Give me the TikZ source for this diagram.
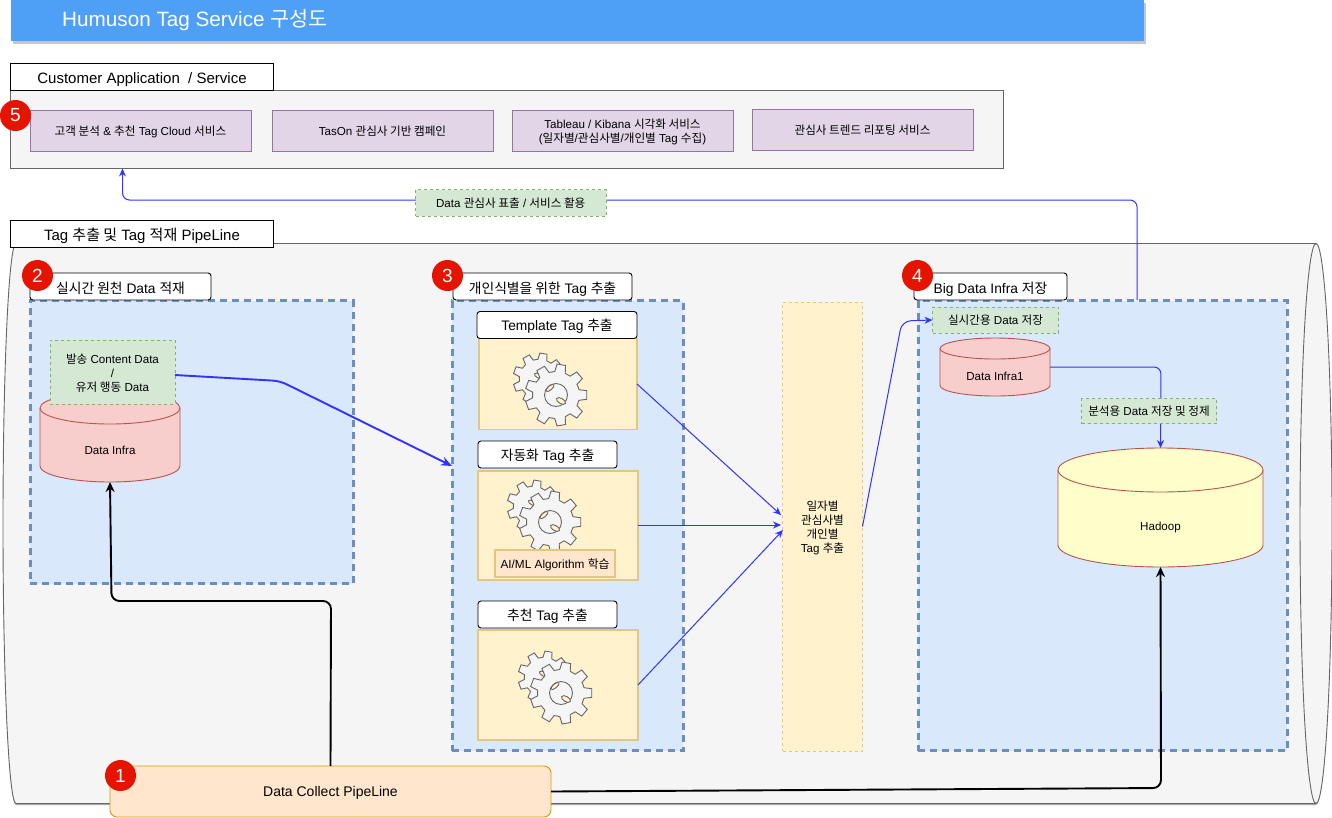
\documentclass[tikz,border=0pt]{standalone}
\usepackage{fontspec}
\setmainfont{Liberation Sans}
\newfontfamily\krfont{Noto Sans CJK KR}
\newcommand{\kor}[1]{{\krfont #1}}
\usepackage{xcolor}
\definecolor{titleblue}{HTML}{4DA0F5}
\definecolor{panelgray}{HTML}{F5F5F5}
\definecolor{panelline}{HTML}{666666}
\definecolor{lilac}{HTML}{E1D5E7}
\definecolor{lilacline}{HTML}{9673A6}
\definecolor{skyfill}{HTML}{DAE8FC}
\definecolor{skyline}{HTML}{6C8EBF}
\definecolor{leaf}{HTML}{D5E8D4}
\definecolor{leafline}{HTML}{82B366}
\definecolor{cream}{HTML}{FFF2CC}
\definecolor{creamline}{HTML}{E3C77E}
\definecolor{peach}{HTML}{FFE6CC}
\definecolor{peachline}{HTML}{D79B00}
\definecolor{rose}{HTML}{F8CECC}
\definecolor{roseline}{HTML}{B85450}
\definecolor{lemon}{HTML}{FFFFCC}
\definecolor{badgered}{HTML}{E51400}
\definecolor{flowblue}{HTML}{3333FF}
\usepackage{tikz}
\usetikzlibrary{positioning,arrows.meta,shadows}
\tikzset{
  boxsize/.style 2 args={minimum width=#1pt, minimum height=#2pt},
  box/.style={draw, inner sep=0pt, outer sep=0pt, line width=0.9pt, font=\fontsize{11.6}{14}\selectfont, text height=9pt, text depth=0pt},
  multiline/.style={align=center, text height=, text depth=},
  headbox/.style={box, draw=black, fill=white, font=\fontsize{15}{17}\selectfont, text height=13.6pt},
  roundhead/.style={headbox, rounded corners=3pt, font=\fontsize{13.8}{16}\selectfont},
  taghead/.style={roundhead, text height=11pt},
  service/.style={box, draw=lilacline, fill=lilac},
  section/.style={box, draw=skyline, fill=skyfill, line width=3pt, dash pattern=on 7pt off 5pt},
  note/.style={box, draw=leafline, fill=leaf, dashed},
  worker/.style={box, draw=creamline, fill=cream, line width=1.4pt},
  tower/.style={box, draw=creamline, fill=cream, dashed},
  badge/.style={circle, fill=badgered, text=white, inner sep=0pt, minimum size=31pt, font=\fontsize{19}{19}\selectfont},
  storeline/.style={draw=roseline, line width=0.9pt},
  gearline/.style={draw=panelline, fill=panelgray, line width=0.9pt},
  edge/.style={-{Stealth[length=8pt,width=7pt]}, flowblue, line width=1pt, rounded corners=7pt},
  thickedge/.style={edge, line width=1.9pt, -{Stealth[length=11pt,width=9pt]}},
  blackedge/.style={-{Stealth[length=10pt,width=9pt]}, black, line width=1.9pt, rounded corners=8pt},
}
\newcommand{\gearwheel}[3]{%
  \draw[gearline] (#1,#2) ++(-20:#3*.76) \foreach \a in {0,40,...,320}{
    -- ([shift={(#1,#2)}]\a-13:#3*.76) -- ([shift={(#1,#2)}]\a-8:#3) -- ([shift={(#1,#2)}]\a+8:#3) -- ([shift={(#1,#2)}]\a+13:#3*.76)} -- cycle;}
\newcommand{\gearpair}[2]{%
  \begin{scope}[shift={(#1,#2)}]
    \gearwheel{-17}{-16}{26}
    \draw[gearline, fill=cream, rotate around={-25:(-17,-19)}] (-17,-19) ellipse (5 and 2.2);
    \gearwheel{0}{0}{31}
    \draw[gearline] (0,0) circle (11.5);
    \draw[gearline, fill=cream, rotate around={40:(-6,-7)}] (-6,-7) ellipse (5 and 2);
    \draw[gearline, fill=cream, rotate around={-30:(5,6)}] (5,6) ellipse (5 and 2.6);
  \end{scope}}
% name, centre x, top y, width, height, end radius, fill, text height, text
\newcommand{\storeshape}[9]{%
  \draw[storeline, fill=#7] ({#2-#4/2},{#3+#6}) arc[x radius=#4/2, y radius=#6, start angle=180, end angle=360] -- ({#2+#4/2},{#3+#5-#6}) arc[x radius=#4/2, y radius=#6, start angle=0, end angle=180] -- cycle;
  \draw[storeline] ({#2-#4/2},{#3+#6}) arc[x radius=#4/2, y radius=#6, start angle=180, end angle=0];
  \node[box, draw=none, boxsize={#4}{#5}, anchor=north, text height=#8pt] (#1) at (#2,#3) {#9};}

\begin{document}
\begin{tikzpicture}[x=1pt, y=-1pt]
  \useasboundingbox (0,0) rectangle (1332,817);
  % title
  \node[box, draw=none, fill=titleblue, boxsize={1133}{41}, anchor=north west, drop shadow={shadow xshift=2pt, shadow yshift=-3pt, opacity=1, fill=black!22}] (title) at (10.5,0) {};
  \node[right=51.5pt of title.west, inner sep=0pt, text=white, text height=12.4pt, text depth=0pt, font=\fontsize{20.7}{24}\selectfont] (titletext) {Humuson Tag Service \kor{구성도}};

  % customer panel
  \node[box, draw=panelline, fill=panelgray, boxsize={993}{78}, anchor=north west] (custpanel) at (10.5,90.5) {};
  \node[headbox, boxsize={263}{27}, anchor=south west] (custhead) at (custpanel.north west) {Customer Application\ \ / Service};
  \node[service, boxsize={221}{41}] (svcone) at (140.5,130.5) {\kor{고객 분석} \& \kor{추천} Tag Cloud \kor{서비스}};
  \node[service, boxsize={221}{41}, right=21pt of svcone] (svctwo) {TasOn \kor{관심사 기반 캠페인}};
  \node[service, multiline, boxsize={221}{41}, right=19pt of svctwo] (svcthree) {\rule{0pt}{13pt}Tableau / Kibana \kor{시각화 서비스}\\(\kor{일자별}/\kor{관심사별}/\kor{개인별} Tag \kor{수집})};
  \node[service, boxsize={221}{41}, right=19pt of svcthree, yshift=1pt] (svcfour) {\kor{관심사 트렌드 리포팅 서비스}};

  % pipeline drum
  \draw[panelline, fill=panelgray, line width=0.9pt, drop shadow={shadow xshift=0pt, shadow yshift=-1.5pt, opacity=1, fill=black!35}] (16,243.5) -- (1316,243.5) arc[x radius=16, y radius=280, start angle=-90, end angle=90] -- (16,803.5) arc[x radius=13, y radius=280, start angle=90, end angle=270] -- cycle;
  \draw[panelline, line width=0.9pt] (1316,243.5) arc[x radius=16, y radius=280, start angle=270, end angle=90];
  \node[headbox, boxsize={263}{27}, anchor=north west] (tubehead) at (10.5,220) {Tag \kor{추출 및} Tag \kor{적재} PipeLine};

  % sections
  \node[section, boxsize={323}{283}, anchor=north west] (secraw) at (30,300.5) {};
  \node[section, boxsize={231}{450}, anchor=north west] (sectag) at (452,300.5) {};
  \node[section, boxsize={369}{450}, anchor=north west] (secbig) at (918,300.5) {};
  \node[roundhead, boxsize={181}{27}, anchor=north west] (headraw) at (30,273) {\kor{실시간 원천} Data \kor{적재}};
  \node[roundhead, boxsize={179}{27}, anchor=north west] (headtag) at (453,273) {\kor{개인식별을 위한} Tag \kor{추출}};
  \node[roundhead, boxsize={153}{27}, anchor=north west] (headbig) at (914,273) {Big Data Infra \kor{저장}};

  % raw data
  \storeshape{infra}{110}{392}{140}{90}{16}{rose}{35}{Data Infra}
  \node[note, multiline, boxsize={125}{64}, anchor=north west] (rawnote) at (50,340) {\rule{0pt}{12pt}\kor{발송} Content Data\\/\\\kor{유저 행동} Data};

  % tag workers
  \node[worker, boxsize={158}{91}, anchor=north west] (workone) at (479,338.5) {};
  \node[taghead, boxsize={160}{27}, anchor=south west] (tagone) at (477,338.5) {Template Tag \kor{추출}};
  \node[worker, boxsize={160}{109}, anchor=north west] (worktwo) at (478,471) {};
  \node[taghead, boxsize={139}{27}, anchor=north west] (tagtwo) at (478,441) {\kor{자동화} Tag \kor{추출}};
  \node[worker, boxsize={160}{110}, anchor=north west] (workthree) at (478,630) {};
  \node[taghead, boxsize={139}{27}, anchor=north west] (tagthree) at (478,601) {\kor{추천} Tag \kor{추출}};
  \gearpair{556}{395}
  \gearpair{550}{522}
  \gearpair{561}{693}
  \node[box, draw=creamline, fill=peach, line width=1.8pt, boxsize={120}{27}, anchor=north west, font=\fontsize{11.8}{14}\selectfont] (mlbox) at (495,550) {AI/ML Algorithm \kor{학습}};

  % daily merge
  \node[tower, boxsize={80}{449}, anchor=north west] (merge) at (782.5,302) {};
  \node[inner sep=0pt, align=center, font=\fontsize{11.6}{14}\selectfont] (mergetext) at (822.5,527.5) {\kor{일자별}\\\kor{관심사별}\\\kor{개인별}\\Tag \kor{추출}};

  % storage
  \node[note, boxsize={126}{26}, anchor=north west] (fastnote) at (932.5,307) {\kor{실시간용} Data \kor{저장}};
  \storeshape{infraone}{995}{338}{110}{58}{10.5}{rose}{27}{Data Infra1}
  \storeshape{hadoop}{1160.5}{448}{205}{119}{22}{lemon}{45}{Hadoop}

  % collect
  \node[box, draw=peachline, fill=peach, rounded corners=7pt, boxsize={441}{51}, anchor=north west, font=\fontsize{14}{16}\selectfont, text height=10.4pt] (collect) at (110,766) {Data Collect PipeLine};

  % connectors
  \coordinate (bigout) at (1137,300);
  \coordinate (custin) at (122.5,168.5);
  \coordinate (tagin) at (452,466);
  \coordinate (mergeone) at (781,515);
  \coordinate (mergetwo) at (781,525);
  \coordinate (mergethree) at (783,530);
  \draw[edge] (bigout) -- (1137,200) -- (122.5,200) -- (custin);
  \draw[thickedge] (rawnote.east |- 0,375) -- (280,381) -- (tagin);
  \draw[edge] (workone.east) -- (mergeone);
  \draw[edge] (worktwo.east |- mergetwo) -- (mergetwo);
  \draw[edge] (workthree.east) -- (mergethree);
  \draw[edge, rounded corners=9pt] (merge.east) -- (902,321) -- (fastnote.west);
  \draw[edge] (infraone.east) -- (1161,367) -- (hadoop.north);
  \draw[blackedge] (330.5,766) -- (331,601) -- (111.5,601) -- (infra.south);
  \draw[blackedge] (collect.east) -- (1161,788) -- (hadoop.south);

  % edge labels
  \node[note, boxsize={190.5}{26.5}, anchor=north west] (servnote) at (415.5,189.5) {Data \kor{관심사 표출} / \kor{서비스 활용}};
  \node[note, boxsize={135}{25}, anchor=north west] (cleannote) at (1081.5,398.5) {\kor{분석용} Data \kor{저장 및 정제}};

  % badges
  \node[badge] (badgeone) at (120.5,775.5) {1};
  \node[badge] (badgetwo) at (37.5,275.5) {2};
  \node[badge] (badgethree) at (447.5,275.5) {3};
  \node[badge] (badgefour) at (917.5,275.5) {4};
  \node[badge] (badgefive) at (15.5,115.5) {5};
\end{tikzpicture}
\end{document}
